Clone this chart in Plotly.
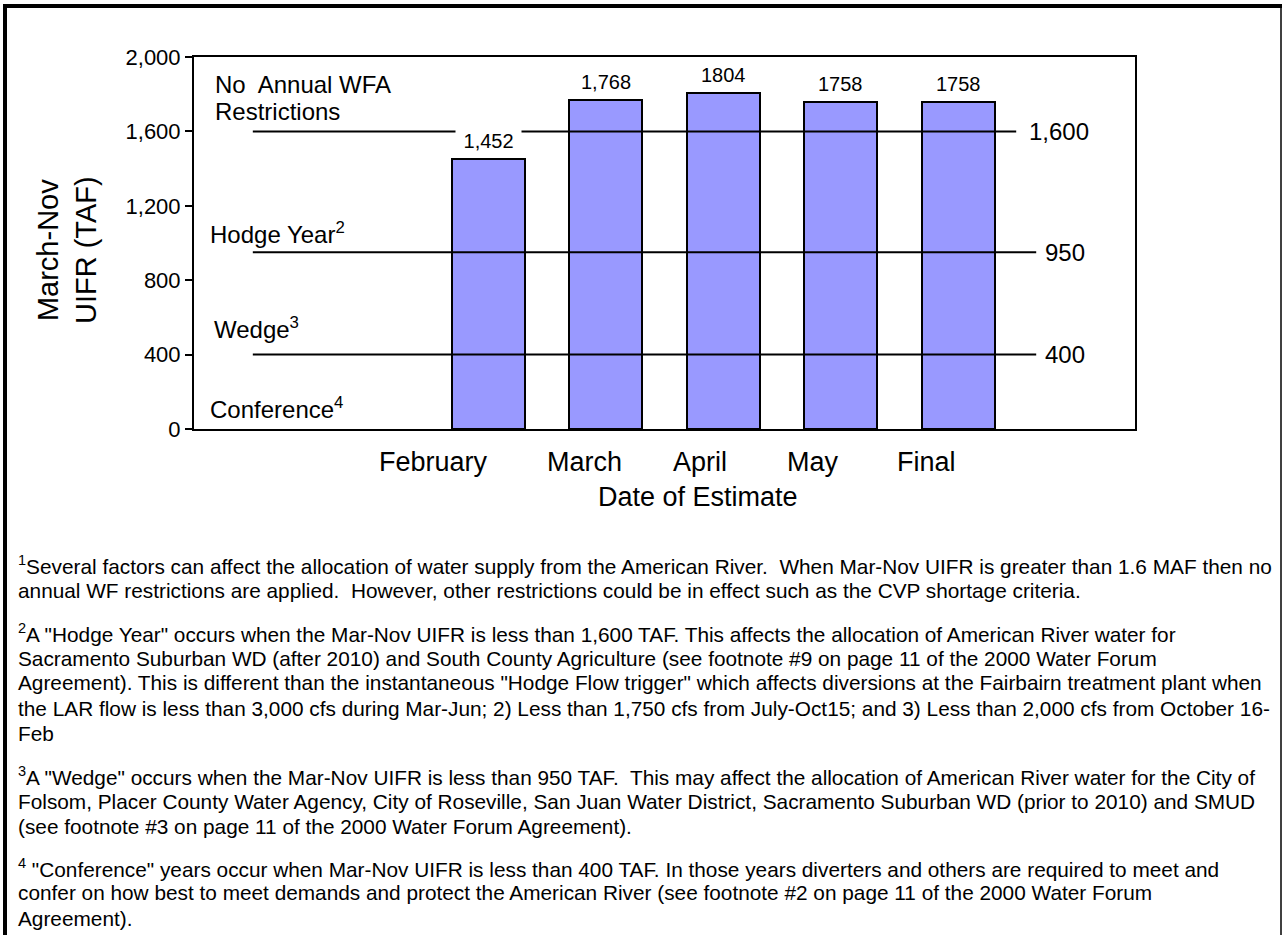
import plotly.graph_objects as go

# ---------------- data ----------------
categories = ["February", "March", "April", "May", "Final"]
cat_index = [2, 3, 4, 5, 6]
values = [1452, 1768, 1804, 1758, 1758]
value_labels = ["1,452", "1,768", "1804", "1758", "1758"]

threshold_values = [1600, 950, 400]
threshold_labels = ["1,600", "950", "400"]
zone_labels = ["No  Annual WFA", "Restrictions", "Hodge Year<sup>2</sup>",
               "Wedge<sup>3</sup>", "Conference<sup>4</sup>"]
y_ticks = [0, 400, 800, 1200, 1600, 2000]

footnote_lines = [
    "<sup>1</sup>Several factors can affect the allocation of water supply from the American River.  When Mar-Nov UIFR is greater than 1.6 MAF then no",
    "annual WF restrictions are applied.  However, other restrictions could be in effect such as the CVP shortage criteria.",
    "<sup>2</sup>A \"Hodge Year\" occurs when the Mar-Nov UIFR is less than 1,600 TAF. This affects the allocation of American River water for",
    "Sacramento Suburban WD (after 2010) and South County Agriculture (see footnote #9 on page 11 of the 2000 Water Forum",
    "Agreement). This is different than the instantaneous \"Hodge Flow trigger\" which affects diversions at the Fairbairn treatment plant when",
    "the LAR flow is less than 3,000 cfs during Mar-Jun; 2) Less than 1,750 cfs from July-Oct15; and 3) Less than 2,000 cfs from October 16-",
    "Feb",
    "<sup>3</sup>A \"Wedge\" occurs when the Mar-Nov UIFR is less than 950 TAF.  This may affect the allocation of American River water for the City of",
    "Folsom, Placer County Water Agency, City of Roseville, San Juan Water District, Sacramento Suburban WD (prior to 2010) and SMUD",
    "(see footnote #3 on page 11 of the 2000 Water Forum Agreement).",
    "<sup>4</sup> \"Conference\" years occur when Mar-Nov UIFR is less than 400 TAF. In those years diverters and others are required to meet and",
    "confer on how best to meet demands and protect the American River (see footnote #2 on page 11 of the 2000 Water Forum",
    "Agreement).",
]

# ---------------- layout geometry (pixels) ----------------
W, H = 1288, 935
L, R, T, B = 194, 1135, 57, 429
FONT = "Liberation Sans, Arial, sans-serif"


def pxx(p):
    return (p - L) / (R - L)


def pxy(p):
    return (B - p) / (B - T)


fig = go.Figure()

fig.add_trace(go.Bar(
    x=cat_index, y=values, width=0.62,
    marker=dict(color="#9999FF", line=dict(color="black", width=2)),
    showlegend=False, hoverinfo="skip",
))

# threshold lines (drawn over bars)
line_start = [0, 0, 0]
line_end = [6.49, 6.66, 6.66]
for v, x0, x1 in zip(threshold_values, line_start, line_end):
    fig.add_trace(go.Scatter(
        x=[x0, x1], y=[v, v], mode="lines",
        line=dict(color="black", width=2),
        showlegend=False, hoverinfo="skip",
    ))

annotations = []

# bar value labels
for i, (x, v, t) in enumerate(zip(cat_index, values, value_labels)):
    annotations.append(dict(
        x=x, y=v, xref="x", yref="y", text=("\u00a0" + t + "\u00a0") if i == 0 else t,
        showarrow=False, yanchor="middle", yshift=18,
        font=dict(family=FONT, size=20, color="black"),
        bgcolor="white" if i == 0 else None, borderpad=2,
    ))

# right threshold labels
label_x = [6.58, 6.72, 6.72]
for v, t, lx in zip(threshold_values, threshold_labels, label_x):
    annotations.append(dict(
        x=lx, y=v, xref="x", yref="y", text=t, showarrow=False,
        xanchor="left", yanchor="middle",
        font=dict(family=FONT, size=24, color="black"),
    ))

# zone labels on the left
zone_pos = [(213, 84), (213, 111), (208, 233), (212, 328), (208, 408)]
for t, (px_, py_) in zip(zone_labels, zone_pos):
    annotations.append(dict(
        x=pxx(px_), y=pxy(py_), xref="paper", yref="paper", text=t,
        showarrow=False, xanchor="left", yanchor="middle",
        font=dict(family=FONT, size=24, color="black"),
    ))

# category labels below the axis
cat_shift = [-55, -21, -23, -28, -32]
for x, c, s in zip(cat_index, categories, cat_shift):
    annotations.append(dict(
        x=x, y=pxy(462), xref="x", yref="paper", text=c, showarrow=False,
        xanchor="center", yanchor="middle", xshift=s,
        font=dict(family=FONT, size=27, color="black"),
    ))

# axis titles
annotations.append(dict(
    x=pxx(698), y=pxy(497), xref="paper", yref="paper", text="Date of Estimate",
    showarrow=False, xanchor="center", yanchor="middle",
    font=dict(family=FONT, size=27, color="black"),
))
annotations.append(dict(
    x=pxx(67), y=pxy(250), xref="paper", yref="paper",
    text="March-Nov<br>UIFR (TAF)", textangle=-90,
    showarrow=False, xanchor="center", yanchor="middle",
    font=dict(family=FONT, size=29, color="black"),
))

# footnotes
foot_y = [565, 590, 633, 658, 683, 708, 733, 776, 801, 826, 868, 893, 918]
for t, fy in zip(footnote_lines, foot_y):
    annotations.append(dict(
        x=pxx(16), y=pxy(fy), xref="paper", yref="paper", text=t,
        showarrow=False, xanchor="left", yanchor="middle", align="left",
        font=dict(family=FONT, size=20.8, color="black"),
    ))

# outer frame
shapes = [
    dict(type="line", xref="paper", yref="paper", x0=pxx(5), x1=pxx(5),
         y0=pxy(5), y1=pxy(960), line=dict(color="black", width=4)),
    dict(type="line", xref="paper", yref="paper", x0=pxx(3), x1=pxx(1282),
         y0=pxy(6), y1=pxy(6), line=dict(color="black", width=4)),
    dict(type="line", xref="paper", yref="paper", x0=pxx(1281), x1=pxx(1281),
         y0=pxy(6), y1=pxy(960), line=dict(color="black", width=1.5)),
]

fig.update_layout(
    width=W, height=H,
    margin=dict(l=L, r=W - R, t=T, b=H - B, pad=0),
    paper_bgcolor="white", plot_bgcolor="white",
    font=dict(family=FONT, color="black"),
    annotations=annotations, shapes=shapes,
    showlegend=False,
    bargap=0,
)
fig.update_xaxes(
    range=[-0.5, 7.5], showticklabels=False, ticks="", showgrid=False,
    zeroline=False, showline=True, linecolor="black", linewidth=2, mirror=True,
)
fig.update_yaxes(
    range=[0, 2000], tickvals=y_ticks, tickformat=",", ticks="outside",
    ticklen=7, tickwidth=2, tickcolor="black", showgrid=False, zeroline=False,
    showline=True, linecolor="black", linewidth=2, mirror=True,
    tickfont=dict(family=FONT, size=22, color="black"),
)

fig.write_html(
    "out.html",
    config={"displayModeBar": False},
    post_script="document.body.style.margin='0';document.body.style.overflow='hidden';",
)
